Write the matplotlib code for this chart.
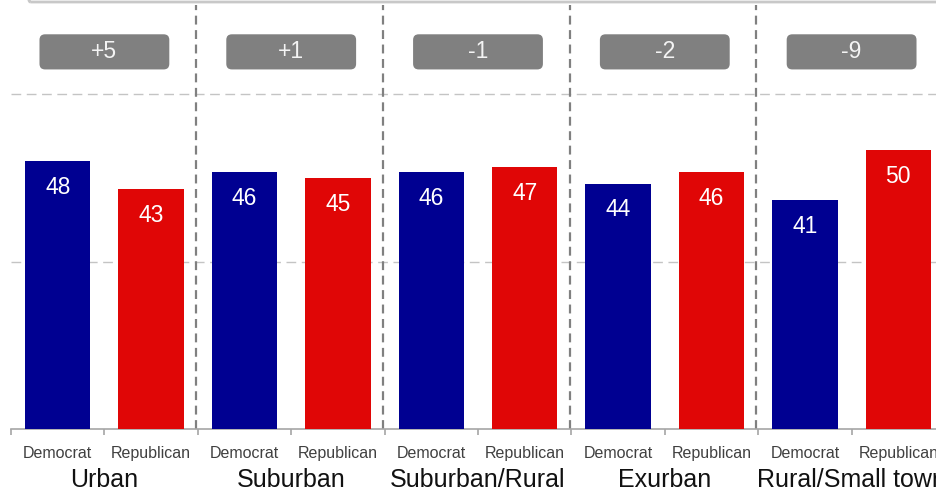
import numpy as np
import matplotlib.pyplot as plt
from matplotlib.patches import FancyBboxPatch
from matplotlib import rcParams

rcParams['font.family'] = ['Liberation Sans', 'DejaVu Sans']

groups = ["Urban", "Suburban", "Suburban/Rural", "Exurban", "Rural/Small town"]
parties = ["Democrat", "Republican"]
dem = [48, 46, 46, 44, 41]
rep = [43, 45, 47, 46, 50]

blue = "#000091"
red = "#e00606"

W, H = 936, 492
fig = plt.figure(figsize=(W / 100, H / 100), dpi=100)
# plot area runs a little past the right edge of the image
ax = fig.add_axes([11 / W, 63 / H, 934 / W, 424 / H])

n = len(groups)
x_dem = np.arange(n) * 2
x_rep = x_dem + 1
ax.bar(x_dem, dem, width=0.7, color=blue, zorder=3)
ax.bar(x_rep, rep, width=0.7, color=red, zorder=3)

for xs, vals in ((x_dem, dem), (x_rep, rep)):
    for x, v in zip(xs, vals):
        ax.text(x, v - 4.7, str(v), ha="center", va="center",
                color="white", fontsize=16.5, zorder=4)

ax.set_xlim(-0.5, 2 * n - 0.5)
ax.set_ylim(0, 76)

# horizontal dashed gridlines
for y in (30, 60):
    ax.axhline(y, color="#c4c4c4", lw=1, dashes=(7, 4), zorder=1)

# group separators
for g in range(1, n):
    ax.axvline(2 * g - 0.52, color="#808080", lw=1.6, dashes=(4, 2.5), zorder=2)

# difference boxes
px_x = 934 / (2 * n)
px_y = 424 / 76
box_w, box_h = 1.39, 6.3
for g in range(n):
    cx = 2 * g + 0.5
    cy = 67.6
    box = FancyBboxPatch((cx - box_w / 2, cy - box_h / 2), box_w, box_h,
                         boxstyle="round,pad=0,rounding_size=0.06",
                         mutation_aspect=px_x / px_y,
                         fc="#808080", ec="none", zorder=3)
    ax.add_patch(box)
    ax.text(cx, cy, f"{dem[g] - rep[g]:+d}", ha="center", va="center",
            color="#f4f4f4", fontsize=16.5, zorder=4)

# axes styling
for s in ("left", "top", "right"):
    ax.spines[s].set_visible(False)
ax.spines["bottom"].set_color("#a6a6a6")
ax.spines["bottom"].set_linewidth(1.2)
ax.set_yticks([])
ax.set_xticks(np.arange(2 * n))
ax.set_xticklabels(parties * n, fontsize=11.5, color="#404040")
ax.tick_params(axis="x", which="major", length=0, pad=12)
ax.set_xticks(np.arange(2 * n + 1) - 0.5, minor=True)
ax.tick_params(axis="x", which="minor", length=4, color="#a6a6a6", width=1.2)

for g, name in enumerate(groups):
    ax.text(2 * g + 0.5, -0.12, name, transform=ax.get_xaxis_transform(),
            ha="center", va="center", fontsize=18, color="#111111")

# bottom edge of the header panel above the plot
fig.add_artist(FancyBboxPatch((19 / W, 490 / H), 1.2, 1.0,
                              boxstyle="round,pad=0,rounding_size=0.012",
                              transform=fig.transFigure, fc="none",
                              ec="#c8c8c8", lw=2))

fig.savefig("out.png")
